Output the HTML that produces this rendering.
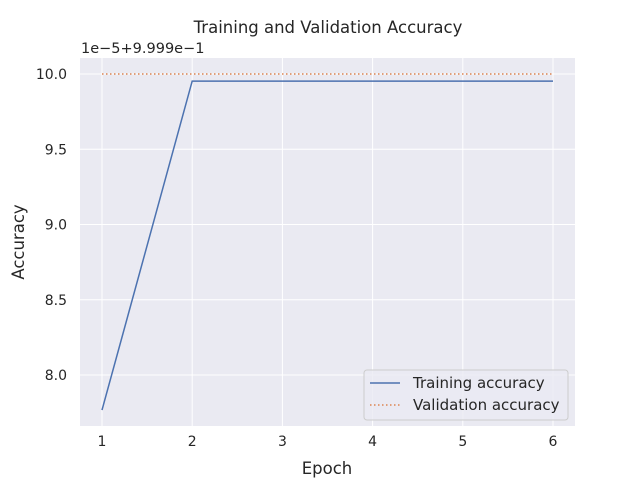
<!DOCTYPE html>
<html><head><meta charset="utf-8"><style>body{margin:0;background:#fff}svg{font-family:"DejaVu Sans","Liberation Sans",sans-serif}</style></head>
<body>
<svg id="chart" width="640" height="480" xmlns="http://www.w3.org/2000/svg">
<rect x="80" y="58" width="495" height="368" fill="#eaeaf2"/>
<g id="grid"></g><g id="ticks"></g><g id="series"></g>
<text x="328" y="33" text-anchor="middle" font-size="16.5" fill="#262626">Training and Validation Accuracy</text>
<text x="81" y="53" font-size="14.5" fill="#262626">1e−5+9.999e−1</text>
<text x="327" y="474" text-anchor="middle" font-size="16.5" fill="#262626">Epoch</text>
<text transform="translate(24,242) rotate(-90)" text-anchor="middle" font-size="16.5" fill="#262626">Accuracy</text>
<g>
<rect x="364" y="370" width="204" height="50" rx="3" fill="#eaeaf2" fill-opacity="0.8" stroke="#ccc"/>
<line x1="370" y1="383" x2="400" y2="383" stroke="#4c72b0" stroke-width="1.5"/>
<text x="413" y="388" font-size="15" fill="#262626">Training accuracy</text>
<line x1="370" y1="405" x2="400" y2="405" stroke="#dd8452" stroke-width="1.5" stroke-dasharray="1.5,2.5"/>
<text x="413" y="410" font-size="15" fill="#262626">Validation accuracy</text>
</g>
</svg>
<script>
const epochs=[1,2,3,4,5,6];
const trainAcc=[7.767,9.953,9.953,9.953,9.953,9.953];
const valAcc=[10.0,10.0,10.0,10.0,10.0,10.0];
const xTicks=[1,2,3,4,5,6];
const yTicks=[8.0,8.5,9.0,9.5,10.0];
const NS="http://www.w3.org/2000/svg";
const xs=v=>102+(v-1)*90.2;
const ys=v=>74+(10-v)*150.5;
const grid=document.getElementById('grid'),ticks=document.getElementById('ticks'),series=document.getElementById('series');
function mk(t,a,p){const e=document.createElementNS(NS,t);for(const k in a)e.setAttribute(k,a[k]);p.appendChild(e);return e;}
xTicks.forEach(t=>{
 const l=mk('line',{x1:xs(t),x2:xs(t),y1:58,y2:426,stroke:'#fff','stroke-width':1},grid);
 
 
 const tx=mk('text',{x:xs(t),y:446,'text-anchor':'middle','font-size':14,fill:'#262626'},ticks);
 tx.textContent=t;
 
 
});
yTicks.forEach(t=>{
 const l=mk('line',{x1:80,x2:575,y1:ys(t),y2:ys(t),stroke:'#fff','stroke-width':1},grid);
 
 
 const tx=mk('text',{x:67,y:ys(t)+5,'text-anchor':'end','font-size':14,fill:'#262626'},ticks);
 tx.textContent=t.toFixed(1);
 
 
});
const p1=mk('polyline',{points:epochs.map((e,i)=>xs(e)+','+ys(trainAcc[i])).join(' '),fill:'none',stroke:'#4c72b0','stroke-width':1.5},series);


const p2=mk('polyline',{points:epochs.map((e,i)=>xs(e)+','+ys(valAcc[i])).join(' '),fill:'none',stroke:'#dd8452','stroke-width':1.5,'stroke-dasharray':'1.5,2.5'},series);


</script>
</body></html>
